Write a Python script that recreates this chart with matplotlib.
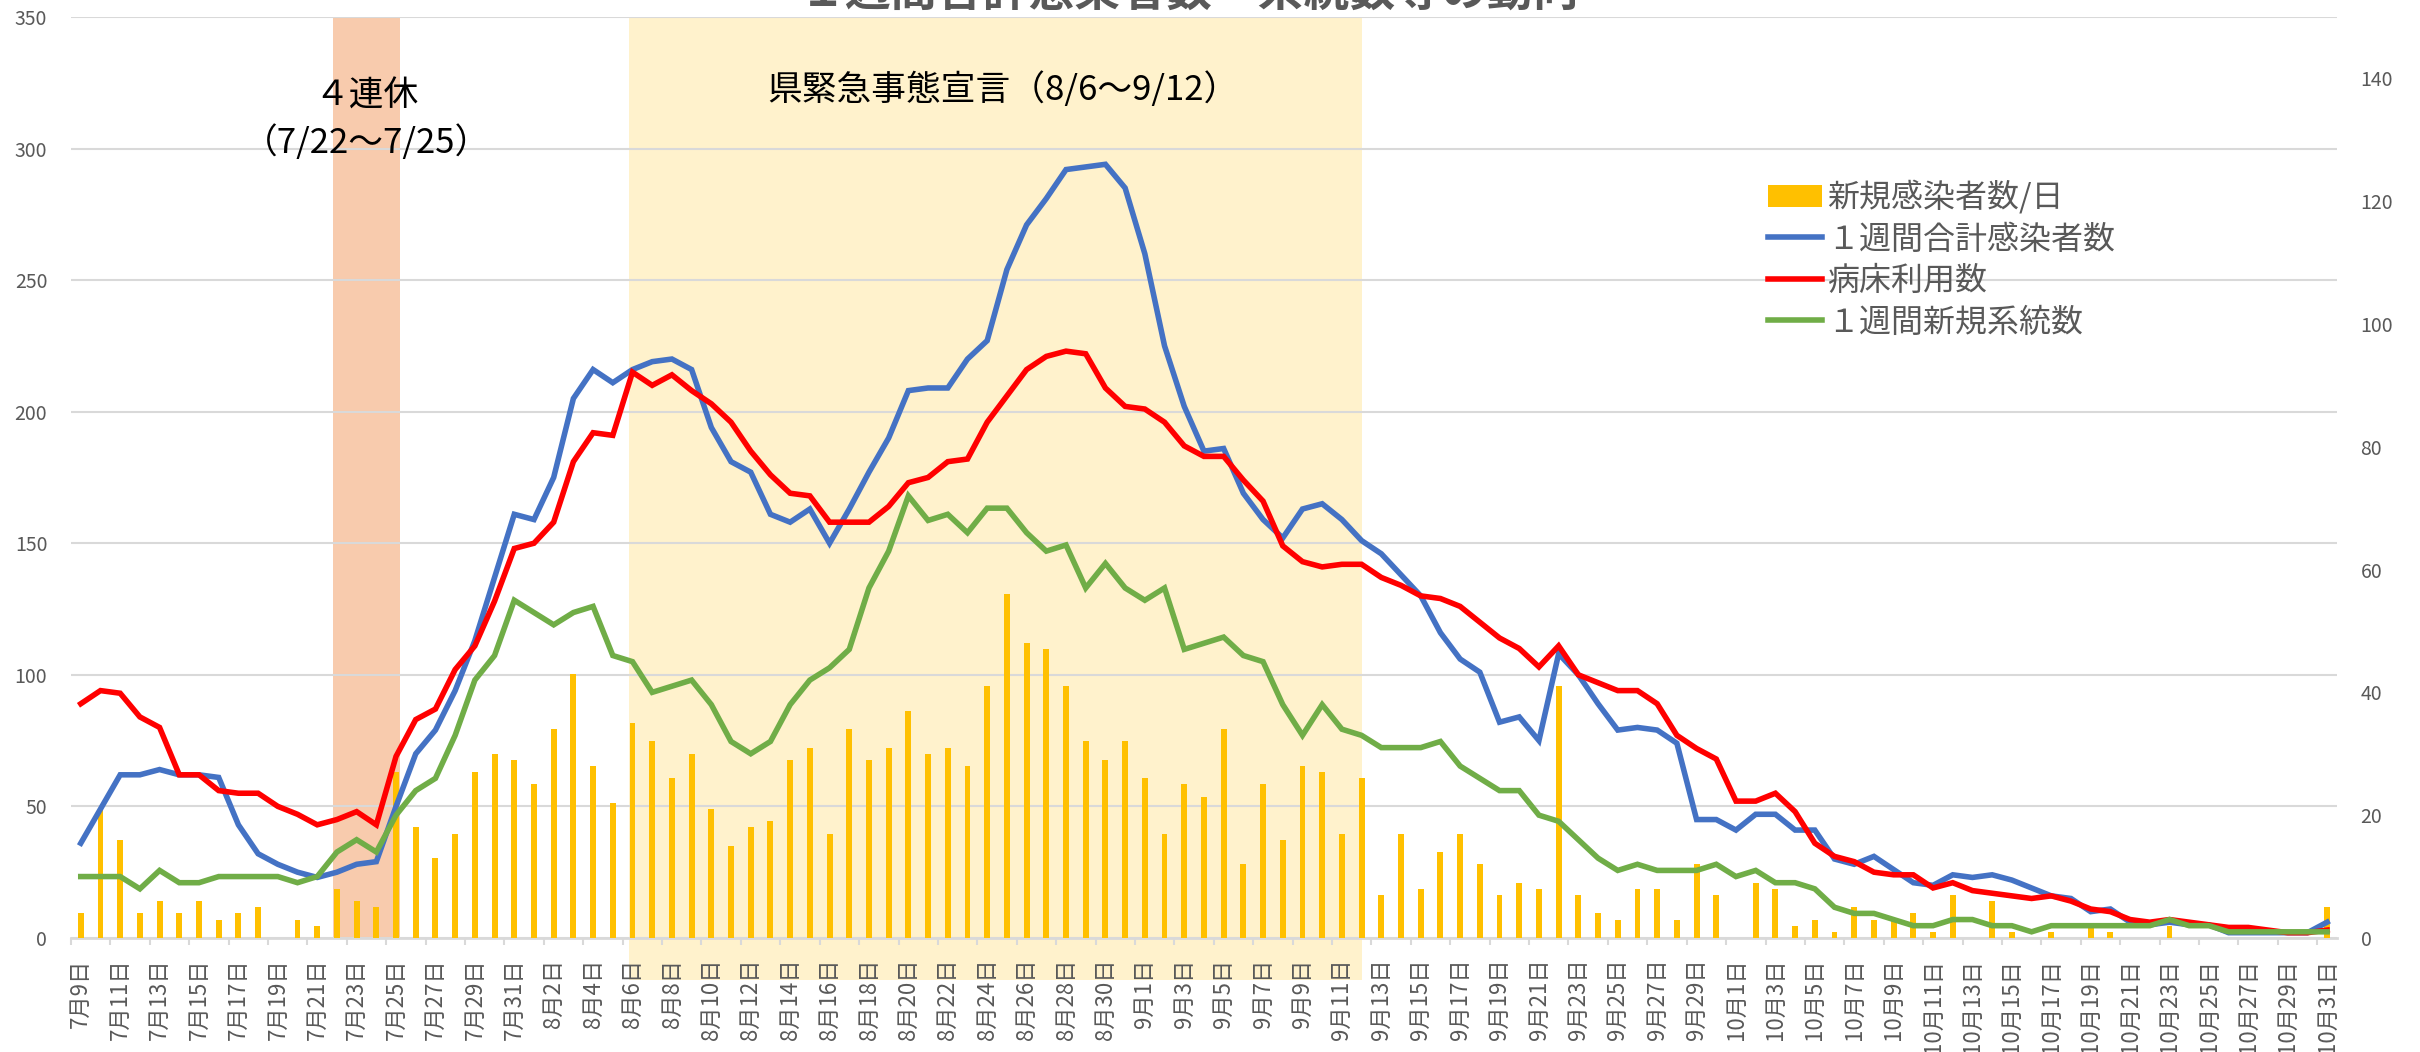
import matplotlib
matplotlib.use('Agg')
import matplotlib.pyplot as plt
from matplotlib.patches import Patch
from matplotlib.lines import Line2D
import numpy as np
import pandas as pd

plt.rcParams['font.family'] = ['Noto Sans CJK JP', 'DejaVu Sans']

# 2021/7/9 - 10/31, one value per day
dates = pd.date_range('2021-07-09', '2021-10-31')
date_labels = [f'{d.month}月{d.day}日' for d in dates]

# 新規感染者数/日 (right axis)
new_cases = [4, 21, 16, 4, 6, 4, 6, 3, 4, 5, 0, 3, 2, 8, 6, 5, 27, 18, 13, 17,
             27, 30, 29, 25, 34, 43, 28, 22, 35, 32, 26, 30, 21, 15, 18, 19, 29, 31, 17, 34,
             29, 31, 37, 30, 31, 28, 41, 56, 48, 47, 41, 32, 29, 32, 26, 17, 25, 23, 34, 12,
             25, 16, 28, 27, 17, 26, 7, 17, 8, 14, 17, 12, 7, 9, 8, 41, 7, 4, 3, 8,
             8, 3, 12, 7, 0, 9, 8, 2, 3, 1, 5, 3, 3, 4, 1, 7, 0, 6, 1, 0,
             1, 0, 2, 1, 0, 0, 2, 0, 0, 0, 0, 0, 0, 0, 5]

# １週間合計感染者数 (left axis)
weekly_total = [36, 49, 62, 62, 64, 62, 62, 61, 43, 32, 28, 25, 23, 25, 28, 29, 50, 70, 79, 94,
                113, 137, 161, 159, 175, 205, 216, 211, 216, 219, 220, 216, 194, 181, 177, 161, 158, 163, 150, 163,
                177, 190, 208, 209, 209, 220, 227, 254, 271, 281, 292, 293, 294, 285, 260, 225, 202, 185, 186, 169,
                159, 152, 163, 165, 159, 151, 146, 138, 130, 116, 106, 101, 82, 84, 75, 108, 100, 89, 79, 80,
                79, 74, 45, 45, 41, 47, 47, 41, 41, 30, 28, 31, 26, 21, 20, 24, 23, 24, 22, 19,
                16, 15, 10, 11, 6, 5, 6, 5, 5, 2, 2, 2, 2, 2, 6]

# 病床利用数 (left axis)
beds = [89, 94, 93, 84, 80, 62, 62, 56, 55, 55, 50, 47, 43, 45, 48, 43, 69, 83, 87, 102,
        111, 128, 148, 150, 158, 181, 192, 191, 215, 210, 214, 208, 203, 196, 185, 176, 169, 168, 158, 158,
        158, 164, 173, 175, 181, 182, 196, 206, 216, 221, 223, 222, 209, 202, 201, 196, 187, 183, 183, 174,
        166, 149, 143, 141, 142, 142, 137, 134, 130, 129, 126, 120, 114, 110, 103, 111, 100, 97, 94, 94,
        89, 77, 72, 68, 52, 52, 55, 48, 36, 31, 29, 25, 24, 24, 19, 21, 18, 17, 16, 15,
        16, 14, 11, 10, 7, 6, 7, 6, 5, 4, 4, 3, 2, 2, 3]

# １週間新規系統数 (right axis)
weekly_lineage = [10, 10, 10, 8, 11, 9, 9, 10, 10, 10, 10, 9, 10, 14, 16, 14, 20, 24, 26, 33,
                  42, 46, 55, 53, 51, 53, 54, 46, 45, 40, 41, 42, 38, 32, 30, 32, 38, 42, 44, 47,
                  57, 63, 72, 68, 69, 66, 70, 70, 66, 63, 64, 57, 61, 57, 55, 57, 47, 48, 49, 46,
                  45, 38, 33, 38, 34, 33, 31, 31, 31, 32, 28, 26, 24, 24, 20, 19, 16, 13, 11, 12,
                  11, 11, 11, 12, 10, 11, 9, 9, 8, 5, 4, 4, 3, 2, 2, 3, 3, 2, 2, 1,
                  2, 2, 2, 2, 2, 2, 3, 2, 2, 1, 1, 1, 1, 1, 1]

x = np.arange(len(dates))
gray = '#595959'

fig = plt.figure(figsize=(24.2, 10.52), dpi=100)
ax = fig.add_axes([0.0293, 0.1084, 0.9364, 0.8755])

# 4連休 and 県緊急事態宣言 periods
ax.axvspan(12.8, 16.2, color='#F8CBAD', lw=0, zorder=0.2)
ax.axvspan(27.83, 65.03, ymin=-0.046, ymax=1, color='#FFF2CC', lw=0, zorder=0.2, clip_on=False)

ax.set_xlim(-0.5, len(x) - 0.5)
ax.set_ylim(0, 350)
ax.set_yticks(np.arange(0, 351, 50))
ax.set_axisbelow(True)
ax.yaxis.grid(True, color='#D9D9D9', lw=1.5)
for s in ['top', 'left', 'right']:
    ax.spines[s].set_visible(False)
ax.spines['bottom'].set_color('#D9D9D9')
ax.spines['bottom'].set_linewidth(2)
ax.tick_params(axis='y', length=0, pad=17, labelsize=14, labelcolor=gray)
ax.set_xticks(x[::2])
ax.set_xticklabels(date_labels[::2], rotation=90, fontsize=16, color=gray)
ax.set_xticks(np.arange(-0.5, len(x) - 1, 2), minor=True)
ax.tick_params(axis='x', which='major', length=0, pad=15)
ax.tick_params(axis='x', which='minor', length=5, width=1.5, color='#D9D9D9')

ax.text(14.5, 320, '４連休', ha='center', va='center', fontsize=25)
ax.text(14.5, 302, '（7/22～7/25）', ha='center', va='center', fontsize=25)
ax.text(46.8, 322, '県緊急事態宣言（8/6～9/12）', ha='center', va='center', fontsize=25)

# right axis: daily cases
axr = ax.twinx()
axr.set_ylim(0, 150)
axr.set_yticks(np.arange(0, 141, 20))
for s in axr.spines.values():
    s.set_visible(False)
axr.tick_params(axis='y', length=0, pad=17, labelsize=14, labelcolor=gray)
axr.bar(x, new_cases, width=0.3, color='#FFC000', zorder=2)

# left-scale lines
axl = ax.twinx()
axl.set_ylim(0, 350)
axl.axis('off')
axl.plot(x, weekly_total, color='#4472C4', lw=4, solid_joinstyle='miter')
axl.plot(x, beds, color='#FF0000', lw=4, solid_joinstyle='miter')

# right-scale line
axg = ax.twinx()
axg.set_ylim(0, 150)
axg.axis('off')
axg.plot(x, weekly_lineage, color='#70AD47', lw=4, solid_joinstyle='miter')

handles = [Patch(facecolor='#FFC000'),
           Line2D([], [], color='#4472C4', lw=4),
           Line2D([], [], color='#FF0000', lw=4),
           Line2D([], [], color='#70AD47', lw=4)]
labels = ['新規感染者数/日', '１週間合計感染者数', '病床利用数', '１週間新規系統数']
leg = fig.legend(handles, labels, loc='upper left', bbox_to_anchor=(1768 / 2420, 1 - 180 / 1052),
                 bbox_transform=fig.transFigure, frameon=False, fontsize=23, labelspacing=0.3,
                 handlelength=1.7, handletextpad=0.15, borderpad=0, borderaxespad=0)
for t in leg.get_texts():
    t.set_color(gray)

fig.text(1190 / 2420, 1 - 6 / 1052, '１週間合計感染者数・系統数等の動向', ha='center', va='baseline',
         fontsize=33, fontweight='bold', color=gray)

fig.savefig('out.png', dpi=100)
